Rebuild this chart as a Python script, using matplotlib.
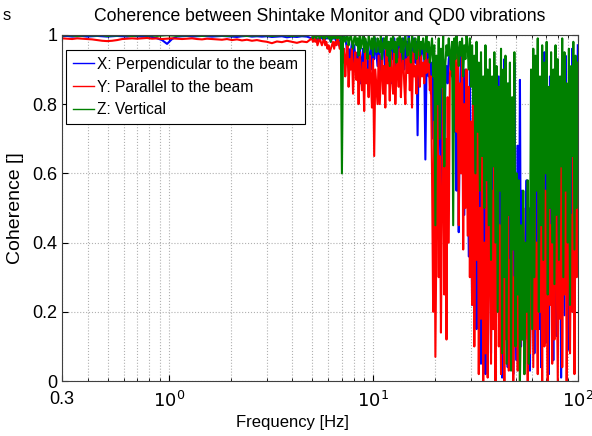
import numpy as np
import matplotlib
matplotlib.use("Agg")
import matplotlib.pyplot as plt
from matplotlib.ticker import FixedLocator, NullFormatter

plt.rcParams['font.family'] = ['Liberation Sans', 'DejaVu Sans']

# sample frequencies: 50 bins from 0.3 to 5 Hz, 240 bins from 5 to 100 Hz
freq = np.concatenate([np.geomspace(0.3, 5, 50, endpoint=False), np.geomspace(5, 100, 240)])

# coherence: low band in per mille, high band in percent
x_low = [996, 997, 995, 996, 997, 995, 996, 997, 996, 995, 996, 997, 996, 995, 997, 996, 995, 996, 994, 990,
         985, 974, 988, 995, 996, 997, 995, 996, 997, 996, 995, 996, 997, 996, 995, 994, 996, 997, 995, 996,
         995, 996, 994, 995, 996, 993, 995, 994, 996, 995]
x_high = [99, 99, 100, 99, 99, 98, 99, 99, 100, 99, 99, 98, 99, 99, 99, 100, 99, 98, 99, 99,
          99, 99, 98, 99, 97, 98, 99, 99, 98, 100, 99, 97, 93, 96, 90, 95, 98, 92, 97, 94,
          88, 95, 91, 97, 86, 93, 96, 89, 95, 98, 92, 84, 94, 97, 90, 96, 93, 99, 95, 91,
          97, 93, 88, 96, 99, 94, 90, 97, 92, 98, 95, 86, 97, 93, 99, 91, 96, 88, 98, 94,
          92, 97, 99, 90, 95, 98, 93, 100, 96, 89, 97, 94, 99, 92, 98, 71, 95, 97, 90, 98,
          96, 93, 64, 90, 97, 88, 94, 83, 92, 70, 89, 60, 85, 52, 78, 90, 47, 84, 93, 62,
          88, 91, 86, 93, 95, 90, 88, 94, 72, 92, 55, 87, 43, 81, 95, 60, 88, 48, 90, 75,
          84, 36, 90, 58, 22, 80, 41, 89, 15, 70, 33, 62, 5, 76, 28, 55, 2, 68, 18, 47,
          85, 8, 72, 30, 90, 3, 64, 20, 88, 12, 77, 1, 58, 93, 25, 70, 4, 86, 40, 15,
          79, 2, 92, 35, 6, 68, 22, 87, 10, 55, 45, 5, 38, 58, 12, 50, 3, 42, 20, 60,
          8, 75, 28, 90, 15, 60, 4, 82, 35, 95, 11, 70, 48, 2, 88, 25, 66, 6, 79, 40,
          13, 92, 30, 71, 1, 85, 52, 19, 94, 37, 68, 9, 80, 24, 96, 45, 3, 77, 55, 97]

y_low = [990, 989, 988, 990, 989, 988, 987, 985, 983, 982, 983, 985, 988, 989, 990, 989, 990, 991, 989, 990,
         988, 989, 990, 989, 988, 989, 990, 988, 987, 989, 988, 987, 986, 988, 985, 987, 984, 986, 983, 985,
         982, 980, 976, 981, 979, 983, 980, 977, 981, 979]
y_high = [99, 98, 99, 98, 99, 97, 98, 99, 98, 97, 98, 99, 97, 98, 96, 97, 95, 96, 97, 98,
          96, 98, 97, 99, 98, 96, 98, 97, 92, 96, 88, 94, 97, 85, 93, 90, 96, 83, 91, 95,
          87, 93, 80, 95, 89, 84, 92, 78, 96, 86, 90, 82, 94, 88, 79, 93, 65, 90, 85, 80,
          94, 80, 88, 96, 83, 91, 79, 97, 86, 92, 81, 95, 88, 83, 97, 80, 90, 93, 85, 96,
          82, 91, 95, 86, 80, 93, 89, 97, 84, 92, 79, 95, 88, 91, 83, 96, 90, 85, 94, 88,
          92, 86, 95, 89, 90, 93, 84, 88, 60, 20, 75, 7, 45, 82, 30, 65, 14, 55, 85, 25,
          70, 12, 82, 40, 88, 93, 90, 86, 94, 91, 72, 95, 45, 86, 60, 97, 38, 80, 50, 90,
          42, 85, 30, 75, 22, 88, 10, 60, 35, 80, 2, 50, 18, 70, 0, 40, 8, 62, 1, 28,
          84, 5, 55, 15, 70, 0, 38, 80, 10, 45, 2, 60, 25, 0, 52, 12, 72, 3, 35, 18,
          48, 0, 30, 10, 55, 3, 40, 0, 25, 12, 50, 2, 18, 35, 0, 45, 8, 28, 55, 4,
          62, 15, 40, 2, 75, 20, 48, 0, 68, 10, 55, 30, 0, 80, 22, 45, 5, 58, 12, 70,
          35, 0, 50, 18, 65, 4, 42, 25, 78, 0, 38, 60, 8, 48, 20, 72, 2, 55, 30, 82]

z_low = [998, 999, 998, 997, 998, 999, 998, 998, 999, 997, 998, 998, 999, 998, 997, 998, 999, 998, 998, 997,
         998, 999, 998, 997, 998, 998, 999, 998, 997, 998, 999, 998, 998, 997, 998, 999, 998, 997, 998, 998,
         999, 998, 997, 998, 999, 998, 997, 998, 998, 999]
z_high = [100, 99, 100, 100, 99, 100, 100, 99, 100, 100, 99, 100, 99, 100, 100, 99, 100, 98, 100, 99,
          100, 99, 100, 99, 100, 99, 100, 60, 99, 100, 98, 99, 100, 97, 99, 100, 98, 96, 99, 100,
          97, 99, 94, 100, 96, 98, 100, 95, 99, 97, 93, 100, 98, 96, 99, 94, 100, 97, 95, 99,
          98, 95, 100, 93, 97, 99, 96, 100, 94, 98, 91, 99, 96, 100, 95, 98, 92, 99, 97, 100,
          95, 99, 93, 98, 100, 96, 94, 99, 97, 92, 100, 98, 95, 99, 93, 97, 100, 94, 98, 96,
          99, 93, 97, 100, 95, 98, 92, 96, 99, 88, 97, 45, 94, 80, 99, 70, 96, 85, 100, 62,
          92, 97, 94, 99, 95, 90, 98, 45, 99, 93, 100, 96, 91, 98, 94, 99, 88, 97, 93, 100,
          96, 90, 99, 85, 97, 80, 94, 60, 98, 72, 92, 55, 95, 65, 88, 50, 97, 58, 90, 45,
          93, 35, 88, 62, 95, 40, 91, 20, 85, 55, 96, 8, 90, 30, 94, 5, 86, 48, 92, 3,
          82, 38, 95, 10, 60, 25, 58, 0, 45, 12, 55, 2, 40, 20, 58, 5, 35, 90, 15, 96,
          30, 94, 55, 99, 20, 88, 45, 97, 35, 92, 60, 98, 25, 85, 50, 95, 40, 90, 28, 97,
          48, 93, 35, 88, 62, 99, 30, 95, 55, 86, 40, 96, 22, 91, 65, 98, 38, 94, 50, 92]

labels = ["X: Perpendicular to the beam", "Y: Parallel to the beam", "Z: Vertical"]
colors = ["#0000ff", "#ff0000", "#008000"]

series = [np.concatenate([np.array(x_low) / 1000, np.array(x_high) / 100]),
          np.concatenate([np.array(y_low) / 1000, np.array(y_high) / 100]),
          np.concatenate([np.array(z_low) / 1000, np.array(z_high) / 100])]

fig = plt.figure(figsize=(5.92, 4.36), dpi=100)
ax = fig.add_axes([0.105, 0.126, 0.871, 0.794])

for vals, lab, col in zip(series, labels, colors):
    ax.plot(freq, vals, color=col, linewidth=1.5, label=lab)

ax.set_xscale("log")
ax.set_xlim(0.3, 100)
ax.set_ylim(0, 1)

ax.xaxis.set_major_locator(FixedLocator([0.3, 1, 10, 100]))
ax.set_xticklabels(["0.3", "$10^0$", "$10^1$", "$10^2$"])
minor = [0.4, 0.5, 0.6, 0.7, 0.8, 0.9] + list(range(2, 10)) + list(range(20, 100, 10))
ax.xaxis.set_minor_locator(FixedLocator(minor))
ax.xaxis.set_minor_formatter(NullFormatter())
ax.set_yticks([0, 0.2, 0.4, 0.6, 0.8, 1])
ax.set_yticklabels(["0", "0.2", "0.4", "0.6", "0.8", "1"])

ax.tick_params(which="both", direction="in", top=True, right=True, labelsize=13)
ax.tick_params(which="major", length=4)
ax.tick_params(which="minor", length=2)
ax.tick_params(axis="x", which="major", pad=7)
ax.grid(True, which="both", axis="x", linestyle=":", color="#b0b0b0", linewidth=0.8)
ax.grid(True, which="major", axis="y", linestyle=":", color="#b0b0b0", linewidth=0.8)
for sp in ax.spines.values():
    sp.set_color("#404040")
    sp.set_linewidth(0.8)

ax.set_title("Coherence between Shintake Monitor and QD0 vibrations", fontsize=12.7, pad=10)
fig.text(292 / 592, 1 - 422 / 436, "Frequency [Hz]", fontsize=12, ha="center", va="center")
ax.set_ylabel("Coherence []", fontsize=14, labelpad=6)

leg = ax.legend(loc="upper left", bbox_to_anchor=(0.008, 0.957), borderaxespad=0,
                fontsize=11.2, handlelength=1.3, handletextpad=0.2, labelspacing=0.5,
                borderpad=0.45, fancybox=False, framealpha=1)
leg.get_frame().set_edgecolor("black")
leg.get_frame().set_linewidth(0.8)
for line in leg.get_lines():
    line.set_linewidth(1.0)

fig.text(0.005, 0.955, "s", fontsize=12)

fig.savefig("out.png", dpi=100)
